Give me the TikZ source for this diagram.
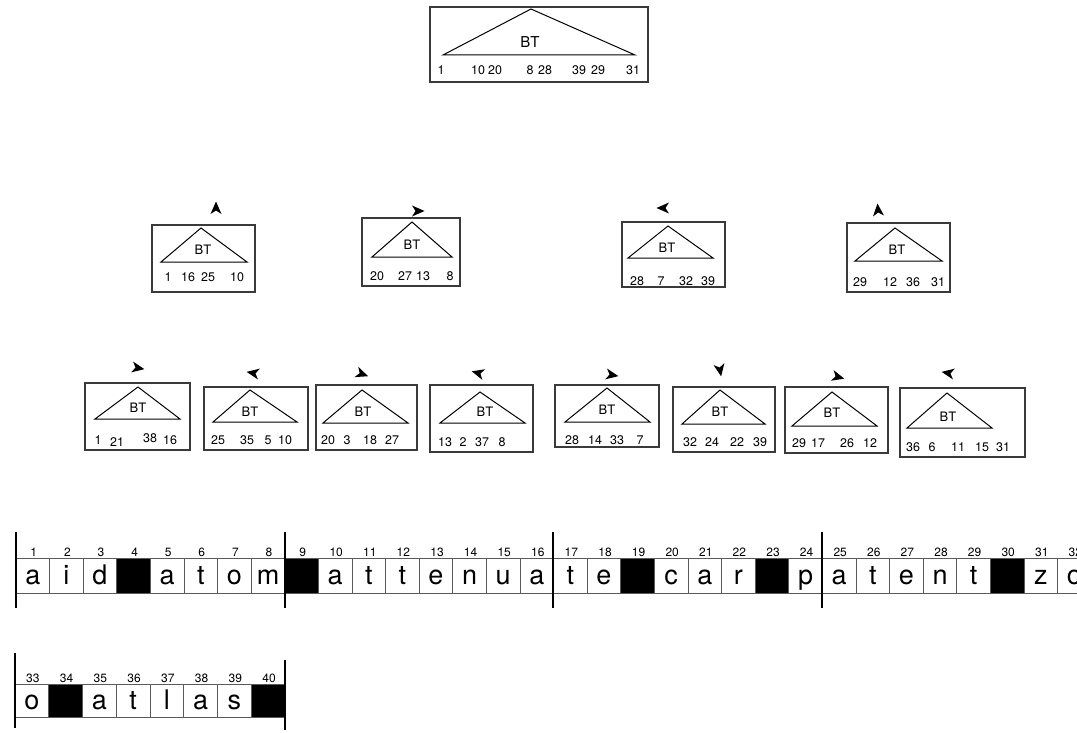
\documentclass[tikz,border=0pt]{standalone}
\usepackage{fontspec}
\setmainfont{TeX Gyre Heros}
\usetikzlibrary{fit}
\definecolor{boxc}{HTML}{3A3A3A}
\definecolor{linec}{HTML}{5A5A5A}
\newcommand\ahead[3]{\fill[ahd,shift={(#1,#2)},rotate=#3] (6.5,0) -- (-6,5.5) -- (-2.5,0) -- (-6,-5.5) -- cycle;}
\begin{document}
\begin{tikzpicture}[x=1pt,y=-1pt,
  tbox/.style={draw=boxc,line width=1.5pt,inner sep=0pt},
  tri/.style={draw=black,line width=1pt,line join=miter},
  num/.style={inner sep=0pt,font=\fontsize{12.5}{12.5}\selectfont},
  btl/.style={inner sep=0pt,font=\fontsize{13}{13}\selectfont},
  ahd/.style={fill=black},
  cell/.style={draw=linec,line width=0.9pt,minimum width=33.6pt,minimum height=35pt,inner sep=0pt,
    text height=20pt,text depth=2pt,font=\fontsize{27}{27}\selectfont},
  blk/.style={cell,fill=black},
  idx/.style={inner sep=0pt,anchor=base,font=\fontsize{12}{12}\selectfont},
  bar/.style={draw=black,line width=2.5pt}]
\clip (0,0) rectangle (1077,733);
\fill[white] (0,0) rectangle (1077,733);
% ---------- top
\node[tbox,fit={(430,7) (648,82)}] (T) {};
\draw[tri] (531,9) -- (443,55) -- (635,55) -- cycle;
\node[btl,font=\fontsize{15}{15}\selectfont] (T-bt) at (530,42) {BT};
\foreach \n/\x in {1/441,10/478,20/495,8/530,28/545,39/579,29/598,31/633}
  \node[num] (T-\n) at (\x,70) {\n};
% ---------- level 2
\node[tbox,fit={(152,225) (255,292)}] (L1) {};
\draw[tri] (201,228) -- (161,262) -- (247,262) -- cycle;
\node[btl] (L1-bt) at (203,250) {BT};
\foreach \n/\x in {1/168,16/188,25/208,10/237} \node[num] (L1-\n) at (\x,277) {\n};
\ahead{216}{208}{90}

\node[tbox,fit={(362,218) (460,286)}] (L2) {};
\draw[tri] (412,222) -- (372,257) -- (452,257) -- cycle;
\node[btl] (L2-bt) at (412,245) {BT};
\foreach \n/\x in {20/377,27/405,13/423,8/450} \node[num] (L2-\n) at (\x,276) {\n};
\ahead{418}{211}{0}

\node[tbox,fit={(622,222) (725,287)}] (L3) {};
\draw[tri] (668,226) -- (628,258) -- (713,258) -- cycle;
\node[btl] (L3-bt) at (667,248) {BT};
\foreach \n/\x in {28/637,7/661,32/686,39/708} \node[num] (L3-\n) at (\x,281) {\n};
\ahead{663}{208}{180}

\node[tbox,fit={(847,223) (950,292)}] (L4) {};
\draw[tri] (895,228) -- (855,261) -- (942,261) -- cycle;
\node[btl] (L4-bt) at (897,250) {BT};
\foreach \n/\x in {29/860,12/890,36/913,31/938} \node[num] (L4-\n) at (\x,282) {\n};
\ahead{878}{210}{95}
% ---------- level 3
\node[tbox,fit={(85,383) (190,450)}] (A) {};
\draw[tri] (138,387) -- (95,419) -- (180,419) -- cycle;
\node[btl] (A-bt) at (138,408) {BT};
\foreach \n/\x/\y in {1/98/440,21/117/442,38/150/438,16/170/440} \node[num] (A-\n) at (\x,\y) {\n};
\ahead{138}{368}{-10}

\node[tbox,fit={(204,387) (308,450)}] (B) {};
\draw[tri] (250,390) -- (213,422) -- (297,422) -- cycle;
\node[btl] (B-bt) at (250,412) {BT};
\foreach \n/\x in {25/218,35/247,5/268,10/285} \node[num] (B-\n) at (\x,440) {\n};
\ahead{253}{373}{170}

\node[tbox,fit={(316,385) (417,450)}] (C) {};
\draw[tri] (362,390) -- (323,423) -- (408,423) -- cycle;
\node[btl] (C-bt) at (363,412) {BT};
\foreach \n/\x in {20/328,3/347,18/370,27/392} \node[num] (C-\n) at (\x,440) {\n};
\ahead{362}{374}{-20}

\node[tbox,fit={(430,385) (533,452)}] (D) {};
\draw[tri] (480,392) -- (440,423) -- (525,423) -- cycle;
\node[btl] (D-bt) at (485,412) {BT};
\foreach \n/\x in {13/445,2/463,37/482,8/502} \node[num] (D-\n) at (\x,442) {\n};
\ahead{478}{373}{165}

\node[tbox,fit={(555,385) (659,447)}] (E) {};
\draw[tri] (607,388) -- (565,422) -- (650,422) -- cycle;
\node[btl] (E-bt) at (607,410) {BT};
\foreach \n/\x in {28/572,14/595,33/617,7/640} \node[num] (E-\n) at (\x,440) {\n};
\ahead{612}{375}{-10}

\node[tbox,fit={(673,387) (775,452)}] (F) {};
\draw[tri] (720,390) -- (682,424) -- (765,424) -- cycle;
\node[btl] (F-bt) at (720,412) {BT};
\foreach \n/\x in {32/690,24/712,22/737,39/760} \node[num] (F-\n) at (\x,442) {\n};
\ahead{720}{370}{-80}

\node[tbox,fit={(785,387) (888,453)}] (G) {};
\draw[tri] (832,392) -- (792,426) -- (877,426) -- cycle;
\node[btl] (G-bt) at (832,413) {BT};
\foreach \n/\x in {29/799,17/818,26/847,12/870} \node[num] (G-\n) at (\x,443) {\n};
\ahead{838}{377}{-15}

\node[tbox,fit={(900,388) (1025,457)}] (H) {};
\draw[tri] (947,393) -- (907,428) -- (992,428) -- cycle;
\node[btl] (H-bt) at (948,417) {BT};
\foreach \n/\x in {36/913,6/932,11/958,15/982,31/1003} \node[num] (H-\n) at (\x,447) {\n};
\ahead{948}{373}{170}
% ---------- text strip row 1
\foreach \i/\c/\s in {1/a/cell,2/i/cell,3/d/cell,4//blk,5/a/cell,6/t/cell,7/o/cell,8/m/cell,
  9//blk,10/a/cell,11/t/cell,12/t/cell,13/e/cell,14/n/cell,15/u/cell,16/a/cell,
  17/t/cell,18/e/cell,19//blk,20/c/cell,21/a/cell,22/r/cell,23//blk,24/p/cell,
  25/a/cell,26/t/cell,27/e/cell,28/n/cell,29/t/cell,30//blk,31/z/cell,32/o/cell}{
  \node[\s] (c\i) at ({16+(\i-0.5)*33.6},575.5) {\c};
  \node[idx] (n\i) at ({16+(\i-0.5)*33.6+1},556) {\i};
}
\coordinate (r1a) at (16,532); \coordinate (r1b) at (16,608);
\coordinate (r1c) at (285,532); \coordinate (r1d) at (285,608);
\coordinate (r1e) at (553,532); \coordinate (r1f) at (553,608);
\coordinate (r1g) at (822,532); \coordinate (r1h) at (822,608);
\draw[bar] (r1a) -- (r1b); \draw[bar] (r1c) -- (r1d);
\draw[bar] (r1e) -- (r1f); \draw[bar] (r1g) -- (r1h);
% ---------- text strip row 2
\foreach \i/\c/\s in {33/o/cell,34//blk,35/a/cell,36/t/cell,37/l/cell,38/a/cell,39/s/cell,40//blk}{
  \node[\s,minimum width=33.75pt,minimum height=33pt] (c\i) at ({15+(\i-32.5)*33.75},700.5) {\c};
  \node[idx] (n\i) at ({15+(\i-32.5)*33.75+1},682) {\i};
}
\coordinate (r2a) at (15,653); \coordinate (r2b) at (15,728);
\coordinate (r2c) at (285,660); \coordinate (r2d) at (285,730);
\draw[bar] (r2a) -- (r2b); \draw[bar] (r2c) -- (r2d);
\end{tikzpicture}
\end{document}
